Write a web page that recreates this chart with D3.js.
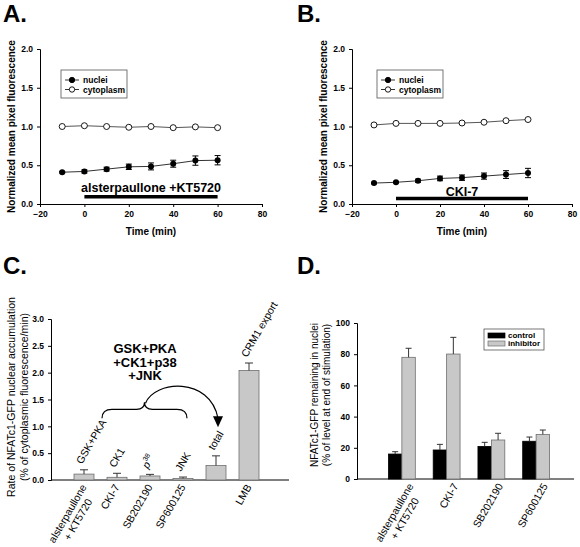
<!DOCTYPE html>
<html><head><meta charset="utf-8">
<script src="https://cdn.jsdelivr.net/npm/d3@7"></script>
<style>body{margin:0;background:#fff}svg{display:block}text{font-family:"Liberation Sans",Arial,Helvetica,sans-serif}</style>
</head><body><svg id="c" width="580" height="547"></svg>
<script>
// ---------- DATA ----------
const timeMin = [-10, 0, 10, 20, 30, 40, 50, 60];
const aNuclei = [0.41, 0.42, 0.45, 0.48, 0.485, 0.52, 0.56, 0.565];
const aNucleiErr = [0.01, 0.02, 0.025, 0.035, 0.045, 0.045, 0.06, 0.06];
const aCyto = [1.0, 1.01, 1.0, 0.99, 1.0, 0.985, 0.995, 0.985];
const bNuclei = [0.27, 0.28, 0.30, 0.33, 0.34, 0.36, 0.38, 0.40];
const bNucleiErr = [0.01, 0.01, 0.02, 0.03, 0.035, 0.04, 0.05, 0.06];
const bCyto = [1.02, 1.04, 1.04, 1.04, 1.045, 1.055, 1.075, 1.09];
const timeTicks = [-20, 0, 20, 40, 60, 80];
const fluorTicks = [0, 0.5, 1.0, 1.5, 2.0];
const treatA = "alsterpaullone +KT5720";
const treatB = "CKI-7";

const cCats = ["alsterpaullone|+ KT5720", "CKI-7", "SB202190", "SP600125", "", "LMB"];
const cTop = ["GSK+PKA", "CK1", "p38", "JNK", "total", "CRM1 export"];
const cRate = [0.11, 0.05, 0.075, 0.03, 0.27, 2.04];
const cErr = [0.08, 0.075, 0.03, 0.025, 0.18, 0.14];
const rateTicks = [0, 0.5, 1.0, 1.5, 2.0, 2.5, 3.0];
const cNote = ["GSK+PKA", "+CK1+p38", "+JNK"];

const dCats = ["alsterpaullone|+ KT5720", "CKI-7", "SB202190", "SP600125"];
const dSeries = ["control", "inhibitor"];
const dControl = [16.0, 18.6, 20.9, 24.2];
const dControlErr = [1.5, 3.6, 2.6, 2.7];
const dInhib = [78.0, 80.1, 25.0, 28.6];
const dInhibErr = [5.8, 10.7, 4.3, 2.8];
const pctTicks = [0, 20, 40, 60, 80, 100];

// ---------- SETUP ----------
const svg = d3.select("#c");
svg.append("rect").attr("width", 580).attr("height", 547).attr("fill", "#fff");
const GREY = "#c8c8c8", GREY_EDGE = "#6e6e6e";

function letter(x, y, t) {
  svg.append("text").attr("x", x).attr("y", y).attr("font-size", 24)
    .attr("font-weight", "bold").text(t);
}
letter(3, 22, "A."); letter(297, 22, "B."); letter(3, 274, "C."); letter(297, 274, "D.");

function styleAxis(g, fs) {
  g.select(".domain").attr("stroke", "#000").attr("stroke-width", 1);
  g.selectAll(".tick line").attr("stroke", "#000");
  g.selectAll(".tick text").attr("font-size", fs).attr("font-weight", "bold")
    .attr("font-family", '"Liberation Sans",Arial,sans-serif').attr("fill", "#000");
}

// ---------- LINE PANELS (A, B) ----------
function linePanel(x0, x1, nuc, nucErr, cyto, treat, treatVal, treatTextY, legX) {
  const x = d3.scaleLinear().domain([-20, 80]).range([x0, x1]);
  const y = d3.scaleLinear().domain([0, 2]).range([204, 49]);
  const g = svg.append("g");
  const gx = g.append("g").attr("transform", "translate(0,204)")
    .call(d3.axisBottom(x).tickValues(timeTicks).tickFormat(d3.format("d")).tickSizeOuter(0).tickSize(3).tickPadding(4));
  styleAxis(gx, 8.5);
  const gy = g.append("g").attr("transform", `translate(${x0},0)`)
    .call(d3.axisLeft(y).tickValues(fluorTicks).tickFormat(d3.format(".1f")).tickSizeOuter(0).tickSize(3).tickPadding(4));
  styleAxis(gy, 8.5);
  g.append("text").attr("x", (x0 + x1) / 2).attr("y", 235).attr("text-anchor", "middle")
    .attr("font-size", 10).attr("font-weight", "bold").text("Time (min)");
  g.append("text").attr("transform", `translate(${x0 - 25},${(49 + 204) / 2}) rotate(-90)`)
    .attr("text-anchor", "middle").attr("font-size", 10).attr("font-weight", "bold")
    .text("Normalized mean pixel fluorescence");

  const line = d3.line().x((d, i) => x(timeMin[i])).y(d => y(d));
  g.append("path").datum(cyto).attr("d", line).attr("fill", "none").attr("stroke", "#555").attr("stroke-width", 1);
  g.append("path").datum(nuc).attr("d", line).attr("fill", "none").attr("stroke", "#333").attr("stroke-width", 1);
  const eb = g.append("g").attr("stroke", "#000").attr("stroke-width", 1);
  nuc.forEach((v, i) => {
    const cx = x(timeMin[i]);
    eb.append("line").attr("x1", cx).attr("x2", cx).attr("y1", y(v - nucErr[i])).attr("y2", y(v + nucErr[i]));
    eb.append("line").attr("x1", cx - 3).attr("x2", cx + 3).attr("y1", y(v - nucErr[i])).attr("y2", y(v - nucErr[i]));
    eb.append("line").attr("x1", cx - 3).attr("x2", cx + 3).attr("y1", y(v + nucErr[i])).attr("y2", y(v + nucErr[i]));
  });
  g.selectAll(null).data(cyto).join("circle").attr("cx", (d, i) => x(timeMin[i])).attr("cy", d => y(d))
    .attr("r", 3).attr("fill", "#fff").attr("stroke", "#000").attr("stroke-width", 0.9);
  g.selectAll(null).data(nuc).join("circle").attr("cx", (d, i) => x(timeMin[i])).attr("cy", d => y(d))
    .attr("r", 3).attr("fill", "#000");
  g.append("line").attr("x1", x(0)).attr("x2", x(60)).attr("y1", y(treatVal)).attr("y2", y(treatVal))
    .attr("stroke", "#000").attr("stroke-width", 3.5);
  g.append("text").attr("x", x(30)).attr("y", treatTextY).attr("text-anchor", "middle")
    .attr("font-size", 12.5).attr("font-weight", "bold").text(treat);
  const lg = g.append("g").attr("transform", `translate(${legX},70)`);
  lg.append("rect").attr("width", 66).attr("height", 28).attr("fill", "#fff").attr("stroke", "#555").attr("stroke-width", 0.8);
  [["nuclei", "#000"], ["cytoplasm", "#fff"]].forEach((e, i) => {
    const yy = 10 + i * 9.5;
    lg.append("line").attr("x1", 4).attr("x2", 18).attr("y1", yy).attr("y2", yy).attr("stroke", "#333");
    lg.append("circle").attr("cx", 11).attr("cy", yy).attr("r", 2.7).attr("fill", e[1]).attr("stroke", "#000").attr("stroke-width", 0.9);
    lg.append("text").attr("x", 22).attr("y", yy + 3).attr("font-size", 8.5).attr("font-weight", "bold").text(e[0]);
  });
}
linePanel(40, 262, aNuclei, aNucleiErr, aCyto, treatA, 0.095, 192, 61);
linePanel(352, 572, bNuclei, bNucleiErr, bCyto, treatB, 0.072, 196, 377);

function catLabel(g, px, py, txt, fs) {
  const parts = txt.split("|");
  const t = g.append("text").attr("transform", `translate(${px},${py}) rotate(-60)`)
    .attr("font-size", fs).attr("text-anchor", "end");
  const t1 = t.append("tspan").attr("x", 0).attr("y", 0).text(parts[0]);
  if (parts[1]) {
    const t2 = t.append("tspan").attr("y", fs * 1.15).text(parts[1]);
    const L1 = t1.node().getComputedTextLength(), L2 = t2.node().getComputedTextLength();
    t2.attr("x", -(L1 - L2) / 2);
  }
}

// ---------- PANEL C ----------
(function () {
  const g = svg.append("g");
  const x = d3.scalePoint().domain(d3.range(cCats.length)).range([84, 249]);
  const y = d3.scaleLinear().domain([0, 3]).range([480, 319]);
  const bw = 20;
  const gy = g.append("g").attr("transform", "translate(51,0)")
    .call(d3.axisLeft(y).tickValues(rateTicks).tickFormat(d3.format(".1f")).tickSizeOuter(0).tickSize(3).tickPadding(4));
  styleAxis(gy, 8.5);
  g.append("line").attr("x1", 51).attr("x2", 289).attr("y1", y(0)).attr("y2", y(0)).attr("stroke", "#000");
  g.selectAll(null).data(cRate).join("rect")
    .attr("x", (d, i) => x(i) - bw / 2).attr("width", bw)
    .attr("y", d => y(d)).attr("height", d => y(0) - y(d))
    .attr("fill", GREY).attr("stroke", GREY_EDGE).attr("stroke-width", 0.8);
  const eb = g.append("g").attr("stroke", "#333").attr("stroke-width", 1);
  cRate.forEach((v, i) => {
    eb.append("line").attr("x1", x(i)).attr("x2", x(i)).attr("y1", y(v)).attr("y2", y(v + cErr[i]));
    eb.append("line").attr("x1", x(i) - 4).attr("x2", x(i) + 4).attr("y1", y(v + cErr[i])).attr("y2", y(v + cErr[i]));
  });
  cCats.forEach((c, i) => { if (c) catLabel(g, x(i) + 3, 487, c, 10.5); });
  cTop.forEach((c, i) => {
    const t = g.append("text").attr("transform", `translate(${x(i) - 2},${y(cRate[i] + cErr[i]) - 5}) rotate(-60)`)
      .attr("font-size", 10.5);
    if (c === "p38") {
      t.append("tspan").attr("font-style", "italic").text("p");
      t.append("tspan").attr("font-size", 7).attr("dy", -5).text("38");
    } else t.text(c);
  });
  cNote.forEach((s, i) => {
    g.append("text").attr("x", 145).attr("y", 353 + i * 13.5).attr("text-anchor", "middle")
      .attr("font-size", 13).attr("font-weight", "bold").text(s);
  });
  const bl = x(0) + 18, br = x(3) + 4, bm = (bl + br) / 2;
  const by = y(1.15), bt = by - 9, bp = by - 16;
  g.append("path").attr("fill", "none").attr("stroke", "#000").attr("stroke-width", 1.2)
    .attr("d", `M${bl},${by} Q${bl},${bt} ${bl + 10},${bt} L${bm - 8},${bt} Q${bm},${bt} ${bm},${bp} Q${bm},${bt} ${bm + 8},${bt} L${br - 10},${bt} Q${br},${bt} ${br},${by}`);
  const tx = x(4) + 2, ty = y(1.0);
  g.append("path").attr("fill", "none").attr("stroke", "#000").attr("stroke-width", 1.2)
    .attr("d", `M${bm + 1},${bp + 1} C${bm + 10},${bp - 22} ${tx - 8},${bp - 26} ${tx},${ty - 8}`);
  g.append("path").attr("fill", "#000")
    .attr("d", `M${tx - 5},${ty - 10} L${tx + 5},${ty - 10} L${tx},${ty + 1} Z`);
  g.append("text").attr("transform", `translate(15,397) rotate(-90)`).attr("text-anchor", "middle")
    .attr("font-size", 10.5).text("Rate of NFATc1-GFP nuclear accumulation");
  g.append("text").attr("transform", `translate(28,397) rotate(-90)`).attr("text-anchor", "middle")
    .attr("font-size", 10.5).text("(% of cytoplasmic fluorescence/min)");
})();

// ---------- PANEL D ----------
(function () {
  const g = svg.append("g");
  const x0 = d3.scaleBand().domain(d3.range(dCats.length)).range([379.5, 558.5]).paddingInner(0.4).paddingOuter(0.2);
  const x1 = d3.scaleBand().domain(dSeries).range([0, x0.bandwidth()]);
  const y = d3.scaleLinear().domain([0, 100]).range([479, 323]);
  const gy = g.append("g").attr("transform", "translate(357,0)")
    .call(d3.axisLeft(y).tickValues(pctTicks).tickFormat(d3.format("d")).tickSizeOuter(0).tickSize(3).tickPadding(4));
  styleAxis(gy, 8.5);
  g.append("line").attr("x1", 357).attr("x2", 574).attr("y1", y(0)).attr("y2", y(0)).attr("stroke", "#000");
  const series = [[dControl, dControlErr, "#000", "#000"], [dInhib, dInhibErr, GREY, GREY_EDGE]];
  series.forEach((s, si) => {
    const key = dSeries[si];
    g.selectAll(null).data(s[0]).join("rect")
      .attr("x", (d, i) => x0(i) + x1(key)).attr("width", x1.bandwidth())
      .attr("y", d => y(d)).attr("height", d => y(0) - y(d))
      .attr("fill", s[2]).attr("stroke", s[3]).attr("stroke-width", 0.8);
    const eb = g.append("g").attr("stroke", "#333").attr("stroke-width", 1);
    s[0].forEach((v, i) => {
      const cx = x0(i) + x1(key) + x1.bandwidth() / 2;
      eb.append("line").attr("x1", cx).attr("x2", cx).attr("y1", y(v)).attr("y2", y(v + s[1][i]));
      eb.append("line").attr("x1", cx - 3).attr("x2", cx + 3).attr("y1", y(v + s[1][i])).attr("y2", y(v + s[1][i]));
    });
  });
  dCats.forEach((c, i) => catLabel(g, x0(i) + x0.bandwidth() / 2 + 12, 486, c, 10.5));
  const lg = g.append("g").attr("transform", "translate(484,329)");
  lg.append("rect").attr("width", 60).attr("height", 21).attr("fill", "#fff").attr("stroke", "#555").attr("stroke-width", 0.8);
  series.forEach((s, i) => {
    lg.append("rect").attr("x", 4).attr("y", 4 + i * 8).attr("width", 17).attr("height", 5)
      .attr("fill", s[2]).attr("stroke", s[3]).attr("stroke-width", 0.7);
    lg.append("text").attr("x", 24).attr("y", 9 + i * 8).attr("font-size", 8).attr("font-weight", "bold").text(dSeries[i]);
  });
  g.append("text").attr("transform", `translate(318,395) rotate(-90)`).attr("text-anchor", "middle")
    .attr("font-size", 10).text("NFATc1-GFP remaining in nuclei");
  g.append("text").attr("transform", `translate(330,395) rotate(-90)`).attr("text-anchor", "middle")
    .attr("font-size", 10).text("(% of level at end of stimulation)");
})();
</script></body></html>
